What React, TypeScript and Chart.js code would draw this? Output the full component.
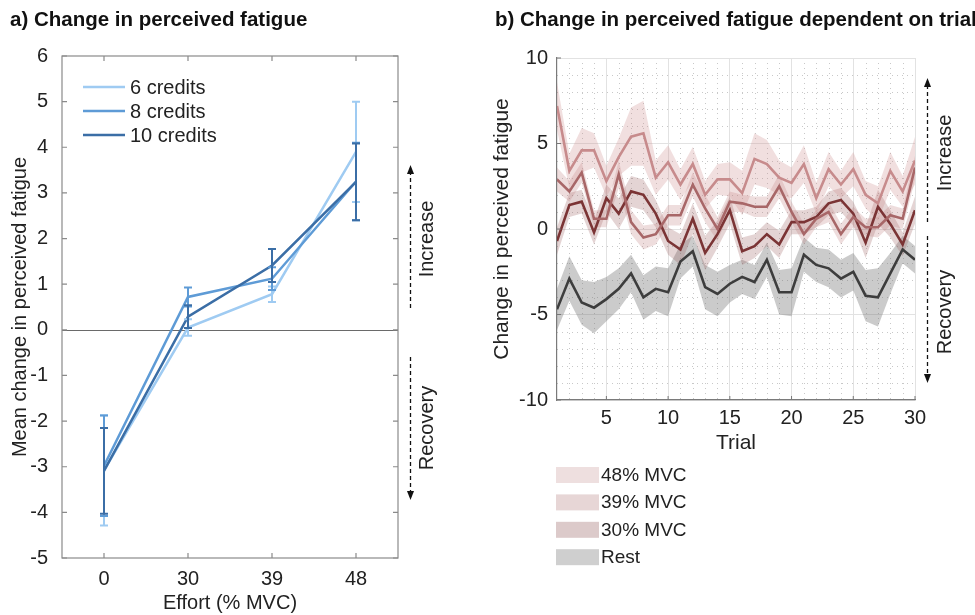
import React, { useEffect, useRef } from 'react';
import { Chart, registerables } from 'chart.js';

Chart.register(...registerables);

// ---------- Panel a data ----------
const effortLabels = ['0', '30', '39', '48'];
const credits6 = [-3.08, 0.05, 0.78, 3.9];
const credits6Err = [1.21, 0.18, 0.17, 1.1];
const credits8 = [-2.98, 0.72, 1.12, 3.25];
const credits8Err = [1.1, 0.21, 0.25, 0.85];
const credits10 = [-3.09, 0.29, 1.41, 3.24];
const credits10Err = [0.94, 0.25, 0.36, 0.84];

// ---------- Panel b data ----------
const trials = [1, 2, 3, 4, 5, 6, 7, 8, 9, 10, 11, 12, 13, 14, 15, 16, 17, 18, 19, 20, 21, 22, 23, 24, 25, 26, 27, 28, 29, 30];
const mvc48 = [7.2, 3.4, 4.6, 4.6, 2.8, 4.2, 5.4, 5.6, 3.0, 3.9, 2.6, 3.8, 2.0, 2.9, 2.9, 2.1, 4.1, 3.8, 3.0, 2.7, 3.8, 1.8, 3.5, 2.6, 3.5, 2.0, 1.5, 3.4, 2.2, 4.0];
const mvc48Sem = [1.4, 1.0, 1.3, 1.0, 0.9, 1.1, 1.7, 1.9, 1.0, 1.0, 0.9, 1.0, 0.8, 0.9, 1.0, 1.3, 1.5, 1.4, 1.0, 0.9, 1.1, 0.9, 1.0, 0.8, 1.0, 0.8, 1.0, 1.1, 0.9, 1.4];
const mvc39 = [2.9, 2.2, 3.3, 0.6, 0.6, 3.2, 0.4, -0.5, -0.3, 0.8, 0.8, 2.6, 1.2, 0.0, 1.6, 1.5, 1.3, 1.3, 2.5, 1.0, -0.3, 0.6, 1.0, -0.3, 0.7, 0.1, 0.1, 0.8, 0.6, 3.6];
const mvc39Sem = [0.7, 0.6, 0.6, 0.5, 0.5, 0.8, 0.7, 0.7, 0.6, 0.6, 0.6, 0.7, 0.8, 0.7, 0.6, 0.5, 0.6, 0.6, 0.7, 0.6, 0.6, 0.5, 0.6, 0.6, 0.6, 0.5, 0.6, 0.6, 0.6, 0.7];
const mvc30 = [-0.7, 1.4, 1.6, -0.2, 1.8, 0.9, 2.2, 2.0, 0.9, -0.7, -1.2, 0.6, -1.4, -0.3, 1.1, -1.3, -1.0, -0.3, -0.9, 0.4, 0.4, 0.7, 1.5, 1.7, 0.9, -0.8, 1.3, 0.3, -0.9, 1.1];
const mvc30Sem = [0.8, 0.7, 0.7, 0.7, 0.8, 0.9, 0.9, 0.9, 0.8, 0.8, 0.9, 0.9, 1.0, 0.8, 0.8, 0.8, 0.7, 0.7, 0.8, 0.7, 0.7, 0.6, 0.7, 0.7, 0.7, 0.9, 1.0, 0.8, 0.7, 0.8];
const rest = [-4.7, -2.9, -4.3, -4.6, -4.1, -3.5, -2.6, -4.0, -3.5, -3.7, -1.9, -1.3, -3.4, -3.8, -3.2, -2.8, -3.1, -1.8, -3.7, -3.7, -1.5, -2.1, -2.3, -2.9, -2.5, -3.9, -4.0, -2.6, -1.2, -1.8];
const restSem = [1.2, 1.3, 1.3, 1.5, 1.3, 1.2, 1.1, 1.3, 1.3, 1.4, 1.0, 0.9, 1.3, 1.3, 1.1, 1.0, 1.0, 1.0, 1.3, 1.4, 1.0, 1.0, 1.1, 1.1, 1.1, 1.5, 1.7, 1.2, 0.8, 0.8];
const rightXTicks = [5, 10, 15, 20, 25, 30];
const rightLegendLabels = ['48% MVC', '39% MVC', '30% MVC', 'Rest'];

const FONT = '"Liberation Sans", Arial, Helvetica, sans-serif';
const TXT = '#222222';

const C6 = '#9fcbf2';
const C8 = '#5e9bd6';
const C10 = '#3b6ea6';

const L48 = '#c78b8c';
const L39 = '#a86768';
const L30 = '#7b3435';
const LREST = '#3d3d3d';
const B48 = 'rgba(205,140,140,0.28)';
const B39 = 'rgba(190,125,125,0.26)';
const B30 = 'rgba(150,90,90,0.26)';
const BREST = 'rgba(110,110,110,0.36)';
const legendPatchColors = ['#eedfdf', '#e7d6d6', '#dccaca', '#cfcfcf'];

function drawArrow(ctx: CanvasRenderingContext2D, x: number, y0: number, y1: number) {
  ctx.save();
  ctx.strokeStyle = '#111';
  ctx.fillStyle = '#111';
  ctx.lineWidth = 1.3;
  ctx.setLineDash([4, 3]);
  const dir = y1 < y0 ? -1 : 1;
  ctx.beginPath();
  ctx.moveTo(x, y0);
  ctx.lineTo(x, y1 - dir * 7);
  ctx.stroke();
  ctx.setLineDash([]);
  ctx.beginPath();
  ctx.moveTo(x, y1);
  ctx.lineTo(x - 3.5, y1 - dir * 9);
  ctx.lineTo(x + 3.5, y1 - dir * 9);
  ctx.closePath();
  ctx.fill();
  ctx.restore();
}

function drawRotText(ctx: CanvasRenderingContext2D, text: string, x: number, y: number, size: number) {
  ctx.save();
  ctx.translate(x, y);
  ctx.rotate(-Math.PI / 2);
  ctx.font = `${size}px ${FONT}`;
  ctx.fillStyle = TXT;
  ctx.textAlign = 'center';
  ctx.textBaseline = 'middle';
  ctx.fillText(text, 0, 0);
  ctx.restore();
}

const leftDecor = {
  id: 'leftDecor',
  beforeDatasetsDraw(chart: any) {
    const { ctx, chartArea } = chart;
    const y = chart.scales.y;
    const y0 = Math.round(y.getPixelForValue(0)) + 0.5;
    ctx.save();
    ctx.strokeStyle = '#6a6a6a';
    ctx.lineWidth = 1.2;
    ctx.beginPath();
    ctx.moveTo(chartArea.left, y0);
    ctx.lineTo(chartArea.right, y0);
    ctx.stroke();
    ctx.restore();
  },
  afterDatasetsDraw(chart: any) {
    const { ctx, chartArea } = chart;
    const xs = chart.scales.x;
    const ys = chart.scales.y;
    // error bars
    chart.data.datasets.forEach((ds: any, di: number) => {
      const meta = chart.getDatasetMeta(di);
      ctx.save();
      ctx.strokeStyle = ds.borderColor;
      ctx.lineWidth = 2;
      ds.err.forEach((e: number, i: number) => {
        const v = ds.data[i];
        const x = meta.data[i].x;
        const yt = ys.getPixelForValue(v + e);
        const yb = ys.getPixelForValue(v - e);
        ctx.beginPath();
        ctx.moveTo(x, yt);
        ctx.lineTo(x, yb);
        ctx.moveTo(x - 4, yt);
        ctx.lineTo(x + 4, yt);
        ctx.moveTo(x - 4, yb);
        ctx.lineTo(x + 4, yb);
        ctx.stroke();
      });
      ctx.restore();
    });
    // frame + inward ticks
    ctx.save();
    ctx.strokeStyle = '#8a8a8a';
    ctx.lineWidth = 1.2;
    ctx.strokeRect(chartArea.left, chartArea.top, chartArea.right - chartArea.left, chartArea.bottom - chartArea.top);
    ctx.beginPath();
    ys.ticks.forEach((t: any) => {
      const py = ys.getPixelForValue(t.value);
      ctx.moveTo(chartArea.left, py);
      ctx.lineTo(chartArea.left + 5, py);
      ctx.moveTo(chartArea.right, py);
      ctx.lineTo(chartArea.right - 5, py);
    });
    xs.ticks.forEach((t: any, i: number) => {
      const px = xs.getPixelForTick(i);
      ctx.moveTo(px, chartArea.bottom);
      ctx.lineTo(px, chartArea.bottom - 5);
      ctx.moveTo(px, chartArea.top);
      ctx.lineTo(px, chartArea.top + 5);
    });
    ctx.stroke();
    ctx.restore();
    // legend
    ctx.save();
    ctx.font = `20px ${FONT}`;
    ctx.textBaseline = 'middle';
    ctx.fillStyle = TXT;
    const baseY = 87;
    chart.data.datasets.forEach((ds: any, i: number) => {
      const ly = baseY + i * 24;
      ctx.strokeStyle = ds.borderColor;
      ctx.lineWidth = 2.5;
      ctx.beginPath();
      ctx.moveTo(83, ly);
      ctx.lineTo(125, ly);
      ctx.stroke();
      ctx.fillText(ds.label, 130, ly + 1);
    });
    ctx.restore();
  },
  afterDraw(chart: any) {
    const { ctx } = chart;
    ctx.save();
    ctx.font = `bold 20.5px ${FONT}`;
    ctx.fillStyle = '#111';
    ctx.textBaseline = 'middle';
    ctx.fillText('a) Change in perceived fatigue', 10, 20);
    ctx.restore();
    drawArrow(ctx, 410.5, 308, 165);
    drawRotText(ctx, 'Increase', 427, 239, 20);
    drawArrow(ctx, 410.5, 357, 500);
    drawRotText(ctx, 'Recovery', 427, 428, 20);
  },
};

const rightDecor = {
  id: 'rightDecor',
  beforeDraw(chart: any) {
    const { ctx, chartArea } = chart;
    const xs = chart.scales.x;
    const ys = chart.scales.y;
    ctx.save();
    ctx.strokeStyle = '#c8c8c8';
    ctx.lineWidth = 1;
    ctx.setLineDash([1, 4]);
    ctx.beginPath();
    trials.forEach((t) => {
      if (t % 5 === 0 || t === 1) return;
      const px = Math.round(xs.getPixelForValue(t)) + 0.5;
      ctx.moveTo(px, chartArea.top);
      ctx.lineTo(px, chartArea.bottom);
    });
    for (let v = ys.min + 1; v < ys.max; v += 1) {
      if (v % 5 === 0) continue;
      const py = Math.round(ys.getPixelForValue(v)) + 0.5;
      ctx.moveTo(chartArea.left, py);
      ctx.lineTo(chartArea.right, py);
    }
    ctx.stroke();
    ctx.restore();
  },
  afterDraw(chart: any) {
    const { ctx, chartArea } = chart;
    const xs = chart.scales.x;
    const ys = chart.scales.y;
    // inward ticks
    ctx.save();
    ctx.strokeStyle = '#777';
    ctx.lineWidth = 1;
    ctx.beginPath();
    ys.ticks.forEach((t: any) => {
      const py = ys.getPixelForValue(t.value);
      ctx.moveTo(chartArea.left, py);
      ctx.lineTo(chartArea.left + 4, py);
    });
    xs.ticks.forEach((t: any) => {
      const px = xs.getPixelForValue(t.value);
      ctx.moveTo(px, chartArea.bottom);
      ctx.lineTo(px, chartArea.bottom - 4);
    });
    ctx.stroke();
    ctx.restore();
    // title
    ctx.save();
    ctx.font = `bold 20.5px ${FONT}`;
    ctx.fillStyle = '#111';
    ctx.textBaseline = 'middle';
    ctx.fillText('b) Change in perceived fatigue dependent on trial', 15, 20);
    ctx.restore();
    // annotations
    drawArrow(ctx, 447.5, 222, 78);
    drawRotText(ctx, 'Increase', 465, 153, 20);
    drawArrow(ctx, 447.5, 236, 383);
    drawRotText(ctx, 'Recovery', 465, 312, 20);
    // legend
    ctx.save();
    ctx.font = `19px ${FONT}`;
    ctx.textBaseline = 'middle';
    rightLegendLabels.forEach((lab, i) => {
      const top = 467 + i * 27.4;
      ctx.fillStyle = legendPatchColors[i];
      ctx.fillRect(76, top, 43, 16);
      ctx.fillStyle = TXT;
      ctx.fillText(lab, 121, top + 8.5);
    });
    ctx.restore();
  },
};

function band(data: number[], sem: number[], sign: number) {
  return data.map((v, i) => v + sign * sem[i]);
}

export default function App() {
  const leftRef = useRef<HTMLCanvasElement>(null);
  const rightRef = useRef<HTMLCanvasElement>(null);

  useEffect(() => {
    const tickFont = { family: FONT, size: 20 };
    const left = new Chart(leftRef.current as HTMLCanvasElement, {
      type: 'line',
      data: {
        labels: effortLabels,
        datasets: [
          { label: '6 credits', data: credits6, err: credits6Err, borderColor: C6, backgroundColor: C6, borderWidth: 2.5, pointRadius: 0, order: 3 } as any,
          { label: '8 credits', data: credits8, err: credits8Err, borderColor: C8, backgroundColor: C8, borderWidth: 2.5, pointRadius: 0, order: 2 } as any,
          { label: '10 credits', data: credits10, err: credits10Err, borderColor: C10, backgroundColor: C10, borderWidth: 2.5, pointRadius: 0, order: 1 } as any,
        ],
      },
      options: {
        responsive: false,
        animation: false,
        events: [],
        layout: { padding: { left: 0, top: 56, right: 82, bottom: 0 } },
        scales: {
          x: {
            type: 'category',
            offset: true,
            grid: { display: false, drawTicks: false },
            border: { display: false },
            ticks: { padding: 9, color: TXT, font: tickFont, maxRotation: 0 },
            title: { display: true, text: 'Effort (% MVC)', color: TXT, font: { family: FONT, size: 20 }, padding: { top: 0, bottom: 0 } },
            afterFit: (s: any) => { s.height = 57; },
          },
          y: {
            min: -5,
            max: 6,
            ticks: { stepSize: 1, padding: 14, color: TXT, font: tickFont },
            grid: { display: false, drawTicks: false },
            border: { display: false },
            title: { display: true, text: 'Mean change in perceived fatigue', color: TXT, font: { family: FONT, size: 20 }, padding: { top: 8, bottom: 0 } },
            afterFit: (s: any) => { s.width = 62; },
          },
        } as any,
        plugins: { legend: { display: false }, tooltip: { enabled: false } },
      },
      plugins: [leftDecor],
    });

    const right = new Chart(rightRef.current as HTMLCanvasElement, {
      type: 'line',
      data: {
        labels: trials,
        datasets: [
          { label: '48 hi', data: band(mvc48, mvc48Sem, 1), fill: '+1', backgroundColor: B48, borderColor: 'rgba(0,0,0,0)', borderWidth: 1, pointRadius: 0, order: 20 },
          { label: '48 lo', data: band(mvc48, mvc48Sem, -1), fill: false, borderColor: 'rgba(0,0,0,0)', borderWidth: 1, pointRadius: 0, order: 20 },
          { label: '39 hi', data: band(mvc39, mvc39Sem, 1), fill: '+1', backgroundColor: B39, borderColor: 'rgba(0,0,0,0)', borderWidth: 1, pointRadius: 0, order: 20 },
          { label: '39 lo', data: band(mvc39, mvc39Sem, -1), fill: false, borderColor: 'rgba(0,0,0,0)', borderWidth: 1, pointRadius: 0, order: 20 },
          { label: '30 hi', data: band(mvc30, mvc30Sem, 1), fill: '+1', backgroundColor: B30, borderColor: 'rgba(0,0,0,0)', borderWidth: 1, pointRadius: 0, order: 20 },
          { label: '30 lo', data: band(mvc30, mvc30Sem, -1), fill: false, borderColor: 'rgba(0,0,0,0)', borderWidth: 1, pointRadius: 0, order: 20 },
          { label: 'rest hi', data: band(rest, restSem, 1), fill: '+1', backgroundColor: BREST, borderColor: 'rgba(0,0,0,0)', borderWidth: 1, pointRadius: 0, order: 20 },
          { label: 'rest lo', data: band(rest, restSem, -1), fill: false, borderColor: 'rgba(0,0,0,0)', borderWidth: 1, pointRadius: 0, order: 20 },
          { label: 'Rest', data: rest, borderColor: LREST, borderWidth: 2.6, pointRadius: 0, fill: false, order: 4 },
          { label: '30% MVC', data: mvc30, borderColor: L30, borderWidth: 2.6, pointRadius: 0, fill: false, order: 3 },
          { label: '39% MVC', data: mvc39, borderColor: L39, borderWidth: 2.6, pointRadius: 0, fill: false, order: 2 },
          { label: '48% MVC', data: mvc48, borderColor: L48, borderWidth: 2.6, pointRadius: 0, fill: false, order: 1 },
        ],
      },
      options: {
        responsive: false,
        animation: false,
        events: [],
        layout: { padding: { left: 0, top: 58, right: 60, bottom: 155 } },
        scales: {
          x: {
            type: 'linear',
            min: 1,
            max: 30,
            afterBuildTicks: (s: any) => { s.ticks = rightXTicks.map((v) => ({ value: v })); },
            grid: { color: '#e2e2e2', lineWidth: 1, drawTicks: false },
            border: { display: true, color: '#7a7a7a', width: 1.2 },
            ticks: { padding: 6, color: TXT, font: tickFont, maxRotation: 0 },
            title: { display: true, text: 'Trial', color: TXT, font: { family: FONT, size: 21 }, padding: { top: 0, bottom: 4 } },
            afterFit: (s: any) => { s.height = 60; },
          },
          y: {
            min: -10,
            max: 10,
            ticks: { stepSize: 5, padding: 9, color: TXT, font: tickFont },
            grid: { color: '#e2e2e2', lineWidth: 1, drawTicks: false },
            border: { display: true, color: '#7a7a7a', width: 1.2 },
            title: { display: true, text: 'Change in perceived fatigue', color: TXT, font: { family: FONT, size: 21 }, padding: { top: 10, bottom: 0 } },
            afterFit: (s: any) => { s.width = 77; },
          },
        } as any,
        plugins: {
          legend: { display: false },
          tooltip: { enabled: false },
          filler: { drawTime: 'beforeDatasetsDraw', propagate: false },
        } as any,
      },
      plugins: [rightDecor],
    });

    return () => {
      left.destroy();
      right.destroy();
    };
  }, []);

  return (
    <div style={{ position: 'absolute', left: 0, top: 0, width: 975, height: 615, background: '#fff', overflow: 'hidden' }}>
      <canvas ref={leftRef} width={480} height={615} style={{ position: 'absolute', left: 0, top: 0, width: 480, height: 615 }} />
      <canvas ref={rightRef} width={495} height={615} style={{ position: 'absolute', left: 480, top: 0, width: 495, height: 615 }} />
    </div>
  );
}
